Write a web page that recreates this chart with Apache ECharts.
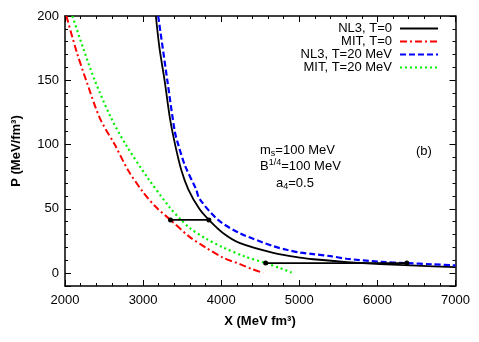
<!DOCTYPE html>
<html lang="en">
<head>
  <meta charset="UTF-8">
  <script src="https://cdn.jsdelivr.net/npm/echarts@6/dist/echarts.min.js"></script>
  <title>P vs X</title>
</head>
<style>
  html, body { margin: 0; height: 100%; background: #fff; }
  #chart { width: 479px; height: 342px; }
</style>
<body>
  <div id="chart"></div>
  <script type="text/javascript">
    // curves: X (MeV fm^3) and P (MeV/fm^3)
    var nl3T0X  = [3163, 3210, 3275, 3345, 3410, 3490, 3580, 3720, 3842, 4026, 4241, 4667, 5009, 5180, 5607, 6035, 6500, 7000];
    var nl3T0P  = [200, 175, 150, 120, 100, 80, 65, 50, 41.4, 31, 23.3, 15.8, 12, 10.8, 8.6, 7, 5.8, 4.7];
    var mitT0X  = [2018, 2150, 2282, 2450, 2637, 2808, 3000, 3171, 3351, 3599, 3800, 4026, 4241, 4400, 4538];
    var mitT0P  = [200, 172, 148, 120, 100, 80, 63, 51, 41.4, 28, 20, 12, 7, 3, 0.2];
    var nl3T20X = [3193, 3310, 3406, 3450, 3534, 3680, 3720, 3960, 4241, 4667, 4850, 5009, 5180, 5400, 5607, 6035, 6377, 6700, 7000];
    var nl3T20P = [200, 150, 110, 100, 84, 65, 58, 41.4, 31, 21, 18, 16, 14.8, 13.2, 11.2, 8.8, 7.8, 6.9, 6];
    var mitT20X = [2095, 2238, 2381, 2580, 2778, 3060, 3342, 3470, 3599, 3800, 4026, 4300, 4569, 4750, 4902];
    var mitT20P = [200, 174, 150, 122, 100, 74, 51, 42.5, 35, 27, 20, 13, 7.8, 4, 0.5];
    // horizontal coexistence segments (end points marked with dots)
    var coexT0X  = [3351, 3842];
    var coexT0P  = [41.4, 41.4];
    var coexT20X = [4569, 6377];
    var coexT20P = [7.8, 7.8];

    var seriesNames = ['NL3, T=0', 'MIT, T=0', 'NL3, T=20 MeV', 'MIT, T=20 MeV'];
    var font = "'Liberation Sans', Arial, Helvetica, sans-serif";

    function pairs(xs, ys) {
      return xs.map(function (x, i) { return [x, ys[i]]; });
    }

    function curve(name, xs, ys, color, type, width) {
      return {
        name: name,
        type: 'line',
        data: pairs(xs, ys),
        smooth: 0.3,
        symbol: 'none',
        lineStyle: { color: color, width: width, type: type },
        itemStyle: { color: color },
        animation: false,
        z: 3
      };
    }

    function coex(xs, ys) {
      return {
        type: 'line',
        data: pairs(xs, ys),
        symbol: 'circle',
        symbolSize: 5,
        showSymbol: true,
        lineStyle: { color: '#000', width: 1.8 },
        itemStyle: { color: '#000' },
        animation: false,
        z: 4
      };
    }

    var tick = { color: '#000', width: 1 };

    var chart = echarts.init(document.getElementById('chart'));

    var option = {
      backgroundColor: '#fff',
      animation: false,
      grid: { left: 65, right: 23.5, top: 16, bottom: 56 },
      legend: {
        data: seriesNames,
        orient: 'vertical',
        align: 'right',
        right: 40,
        top: 22,
        padding: 0,
        itemWidth: 38,
        itemHeight: 10,
        itemGap: 0,
        itemStyle: { opacity: 0 },
        textStyle: { fontFamily: font, fontSize: 13, color: '#000', lineHeight: 12, padding: [0, 3, 0, 0] }
      },
      xAxis: [{
        type: 'value', position: 'bottom', min: 2000, max: 7000, interval: 1000,
        axisLine: { onZero: false, lineStyle: { color: '#000', width: 1.5 } },
        axisTick: { show: true, inside: true, length: 6, lineStyle: tick },
        minorTick: { show: true, splitNumber: 5, length: 3, lineStyle: tick },
        axisLabel: {
          margin: 8, fontFamily: font, fontSize: 13, color: '#000',
          formatter: function (v) { return String(v); }
        },
        splitLine: { show: false }
      }, {
        type: 'value', position: 'top', min: 2000, max: 7000, interval: 1000,
        axisLine: { onZero: false, lineStyle: { color: '#000', width: 1.5 } },
        axisTick: { show: true, inside: true, length: 6, lineStyle: tick },
        minorTick: { show: true, splitNumber: 5, length: 3, lineStyle: tick },
        axisLabel: { show: false },
        splitLine: { show: false }
      }],
      yAxis: [{
        type: 'value', position: 'left', min: -10, max: 200, splitNumber: 4,
        axisLine: { onZero: false, lineStyle: { color: '#000', width: 1.5 } },
        axisTick: { show: true, inside: true, length: 6, lineStyle: tick },
        minorTick: { show: true, splitNumber: 5, length: 3, lineStyle: tick },
        axisLabel: { showMinLabel: false, margin: 6, fontFamily: font, fontSize: 13, color: '#000' },
        splitLine: { show: false }
      }, {
        type: 'value', position: 'right', min: -10, max: 200, splitNumber: 4,
        axisLine: { onZero: false, lineStyle: { color: '#000', width: 1.5 } },
        axisTick: { show: true, inside: true, length: 6, lineStyle: tick },
        minorTick: { show: true, splitNumber: 5, length: 3, lineStyle: tick },
        axisLabel: { show: false },
        splitLine: { show: false }
      }],
      graphic: [
        {
          type: 'text', x: 260, y: 321,
          style: {
            text: 'X (MeV fm\u00b3)', align: 'center', verticalAlign: 'middle',
            fontFamily: font, fontSize: 13, fontWeight: 'bold', fill: '#000'
          }
        },
        {
          type: 'text', x: 16, y: 151, rotation: Math.PI / 2,
          style: {
            text: 'P (MeV/fm\u00b3)', align: 'center', verticalAlign: 'middle',
            fontFamily: font, fontSize: 13, fontWeight: 'bold', fill: '#000'
          }
        },
        {
          type: 'text', left: 260, top: 143,
          style: {
            text: '{n|m}{sub|s}{n|=100 MeV}',
            rich: {
              n: { fontFamily: font, fontSize: 13, fill: '#000', lineHeight: 16 },
              sub: { fontFamily: font, fontSize: 9, fill: '#000', lineHeight: 16, verticalAlign: 'bottom', padding: [6, 0, 0, 0] }
            }
          }
        },
        {
          type: 'text', left: 260, top: 158,
          style: {
            text: '{n|B}{sup|1/4}{n|=100 MeV}',
            rich: {
              n: { fontFamily: font, fontSize: 13, fill: '#000', lineHeight: 16 },
              sup: { fontFamily: font, fontSize: 9, fill: '#000', lineHeight: 16, verticalAlign: 'top', padding: [0, 0, 6, 0] }
            }
          }
        },
        {
          type: 'text', left: 276, top: 176,
          style: {
            text: '{n|a}{sub|4}{n|=0.5}',
            rich: {
              n: { fontFamily: font, fontSize: 13, fill: '#000', lineHeight: 16 },
              sub: { fontFamily: font, fontSize: 9, fill: '#000', lineHeight: 16, verticalAlign: 'bottom', padding: [6, 0, 0, 0] }
            }
          }
        },
        {
          type: 'text', left: 416, top: 145,
          style: { text: '(b)', fontFamily: font, fontSize: 13, fill: '#000' }
        }
      ],
      series: [
        curve(seriesNames[0], nl3T0X, nl3T0P, '#000000', 'solid', 1.8),
        curve(seriesNames[1], mitT0X, mitT0P, '#ff0000', [7, 3, 2, 3], 2),
        curve(seriesNames[2], nl3T20X, nl3T20P, '#0000ff', [6, 3], 2.2),
        curve(seriesNames[3], mitT20X, mitT20P, '#00f000', [2, 3], 2.2),
        coex(coexT0X, coexT0P),
        coex(coexT20X, coexT20P)
      ]
    };

    chart.setOption(option);
  </script>
</body>
</html>
